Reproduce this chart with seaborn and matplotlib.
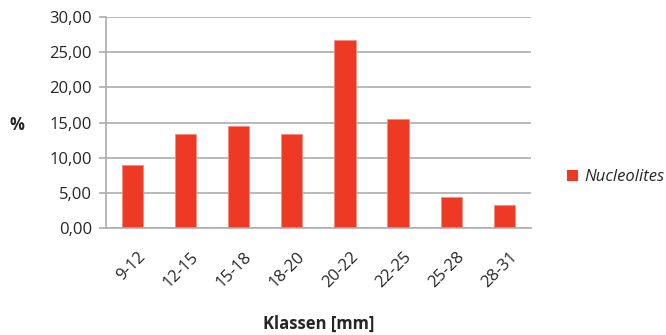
import matplotlib
matplotlib.use("Agg")
import matplotlib.pyplot as plt
import matplotlib.transforms as mtransforms
from matplotlib.patches import Patch
import numpy as np
import pandas as pd
import seaborn as sns

# Size classes of Nucleolites tests and their share in percent
klassen = ["9-12", "12-15", "15-18", "18-20", "20-22", "22-25", "25-28", "28-31"]
prozent = [8.89, 13.33, 14.44, 13.33, 26.67, 15.56, 4.44, 3.33]
serie = "Nucleolites"
y_ticks = [0, 5, 10, 15, 20, 25, 30]

df = pd.DataFrame({"Klassen": klassen, "Prozent": prozent, "Serie": serie})

sns.set_style("white")
plt.rcParams["font.family"] = ["Open Sans", "DejaVu Sans"]

bar_color = "#EE3A24"
grid_color = "#ADADAD"
fs = 12

fig = plt.figure(figsize=(6.66, 3.35), dpi=100)
ax = fig.add_axes([0.159, 0.3194, 0.638, 0.6296])

sns.barplot(data=df, x="Klassen", y="Prozent", hue="Serie", palette=[bar_color],
            saturation=1, width=0.4, ax=ax, legend=False,
            edgecolor="#F58C80", linewidth=0.6)

ax.set_ylim(0, 30)
ax.set_xlim(-0.5, len(klassen) - 0.5)
ax.set_yticks(y_ticks)
ax.set_yticklabels([f"{v:.2f}".replace(".", ",") for v in y_ticks])
ax.yaxis.grid(True, color=grid_color, linewidth=1.2)
ax.set_axisbelow(True)

for side in ("top", "right"):
    ax.spines[side].set_visible(False)
for side in ("left", "bottom"):
    ax.spines[side].set_color(grid_color)
    ax.spines[side].set_linewidth(1.2)

# Category boundaries carry the x ticks
ax.set_xticks(np.arange(-0.5, len(klassen)), minor=True)
ax.tick_params(axis="x", which="minor", length=5, width=1.2, color=grid_color, direction="out")
ax.tick_params(axis="x", which="major", length=0, labelsize=fs, pad=15)
ax.tick_params(axis="y", length=5, width=1.2, color=grid_color, labelsize=fs,
               left=True, pad=5, direction="out")
shift = mtransforms.ScaledTranslation(5 / 100, 0, fig.dpi_scale_trans)
for lbl in ax.get_xticklabels():
    lbl.set_rotation(45)
    lbl.set_ha("right")
    lbl.set_rotation_mode("anchor")
    lbl.set_transform(lbl.get_transform() + shift)

ax.set_xlabel("Klassen [mm]", fontsize=fs, fontweight="bold", va="center")
ax.xaxis.set_label_coords(0.5, -0.455)
ax.set_ylabel("%", fontsize=fs, fontweight="bold", rotation=0, va="center")
ax.yaxis.set_label_coords(-0.21, 0.49)

ax.legend(handles=[Patch(facecolor=bar_color, edgecolor="none", label=serie)],
          loc="center left", bbox_to_anchor=(1.05, 0.24), frameon=False,
          prop={"size": fs, "style": "italic"}, handlelength=0.65, handleheight=0.65,
          handletextpad=0.4)

fig.savefig("out.png", dpi=100)
